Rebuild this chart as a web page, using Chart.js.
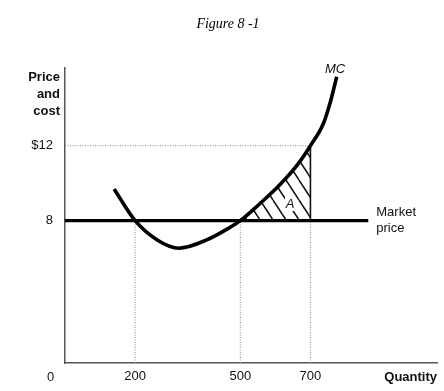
<!DOCTYPE html>
<html>
<head>
<meta charset="utf-8">
<script src="https://cdn.jsdelivr.net/npm/chart.js@4"></script>
<style>
  html, body { margin: 0; padding: 0; background: #fff; }
  #wrap { width: 444px; height: 391px; }
</style>
</head>
<body>
<div id="wrap"><canvas id="fig"></canvas></div>
<script>
// Datos
const qTicks = [200, 500, 700];
const pTicks = [8, 12];
const pTickLabels = { 8: '8', 12: '$12' };

// Curva MC (cantidad, precio)
const mcQ = [140, 200, 263, 325, 404, 466, 500, 557, 612, 666, 700, 737, 756, 775];
const mcP = [9.69, 8, 6.97, 6.53, 6.97, 7.59, 8, 8.93, 9.9, 11.06, 12, 13.19, 14.28, 15.68];

const marketPrice = 8;
const marketEnd = 865;     // hasta donde llega la recta de precio
const qLow = 200, qHigh = 500, qBest = 700;
const pBest = 12;

// Rango de ejes
const qMin = 0, qMax = 1061;
const pMin = 0.4, pMax = 16.15;

// -------------------------------------
// Rayado del área A
// -------------------------------------
function hatchPattern() {
  const c = document.createElement('canvas');
  const w = 13, h = 20;
  c.width = w; c.height = h;
  const g = c.getContext('2d');
  g.strokeStyle = '#111';
  g.lineWidth = 1.5;
  [-w, 0, w].forEach(dx => {
    g.beginPath();
    g.moveTo(dx, 0);
    g.lineTo(dx + w, h);
    g.stroke();
  });
  return g.createPattern(c, 'repeat');
}
const hatch = hatchPattern();

const pts = (xs, ys) => xs.map((x, i) => ({ x, y: ys[i] }));

const dotted = { borderColor: '#8a8a8a', borderWidth: 1, borderDash: [1, 1.5], pointRadius: 0, fill: false };

// Textos sueltos (título, título del eje, MC, A, precio de mercado)
const labelPlugin = {
  id: 'labels',
  afterDatasetsDraw(chart) {
    const { ctx, scales: { x, y } } = chart;
    ctx.save();
    ctx.fillStyle = '#000';
    ctx.textBaseline = 'middle';
    ctx.textAlign = 'center';
    ctx.font = 'italic 14px "Liberation Serif", "DejaVu Serif", serif';
    ctx.fillText('Figure 8 -1', 228, 24);

    ctx.fillStyle = '#111';
    ctx.font = 'bold 13px "Liberation Sans", Arial, sans-serif';
    ctx.textAlign = 'right';
    ['Price', 'and', 'cost'].forEach((t, i) => ctx.fillText(t, 60, 77 + i * 17));
    ctx.fillText('Quantity', 437, 377);

    ctx.font = '13px "Liberation Sans", Arial, sans-serif';
    ctx.textAlign = 'center';
    ctx.fillText('0', 50.5, 377);

    ctx.textAlign = 'left';
    const xm = x.getPixelForValue(marketEnd) + 8;
    const ym = y.getPixelForValue(marketPrice);
    ctx.fillText('Market', xm, ym - 8);
    ctx.fillText('price', xm, ym + 8);

    ctx.font = 'italic 13px "Liberation Sans", Arial, sans-serif';
    ctx.fillText('MC', 325, 69);

    // etiqueta A sobre el rayado
    const ax = 290, ay = 204;
    ctx.fillStyle = '#fff';
    ctx.fillRect(ax - 5, ay - 7, 10, 14);
    ctx.fillStyle = '#111';
    ctx.textAlign = 'center';
    ctx.fillText('A', ax, ay);
    ctx.restore();
  }
};

Chart.defaults.font.family = '"Liberation Sans", Arial, sans-serif';
Chart.defaults.font.size = 13;
Chart.defaults.color = '#111';

new Chart(document.getElementById('fig'), {
  type: 'line',
  data: {
    datasets: [
      {
        label: 'MC',
        data: pts(mcQ, mcP),
        borderColor: '#000',
        borderWidth: 3.6,
        pointRadius: 0,
        cubicInterpolationMode: 'monotone',
        fill: { value: marketPrice },
        backgroundColor: 'rgba(0,0,0,0)',
        segment: {
          backgroundColor: c => (c.p0.parsed.x >= qHigh && c.p1.parsed.x <= qBest) ? hatch : 'rgba(0,0,0,0)'
        }
      },
      {
        label: 'Market price',
        data: [{ x: qMin, y: marketPrice }, { x: marketEnd, y: marketPrice }],
        borderColor: '#000', borderWidth: 3.4, pointRadius: 0, fill: false
      },
      {
        label: 'edge',
        data: [{ x: qBest, y: marketPrice }, { x: qBest, y: pBest }],
        borderColor: '#111', borderWidth: 1.6, pointRadius: 0, fill: false
      },
      { label: 'g200', data: [{ x: qLow, y: pMin }, { x: qLow, y: marketPrice }], ...dotted },
      { label: 'g500', data: [{ x: qHigh, y: pMin }, { x: qHigh, y: marketPrice }], ...dotted },
      { label: 'g700', data: [{ x: qBest, y: pMin }, { x: qBest, y: marketPrice }], ...dotted },
      { label: 'g12', data: [{ x: qMin, y: pBest }, { x: qBest, y: pBest }], ...dotted }
    ]
  },
  options: {
    responsive: true,
    maintainAspectRatio: false,
    animation: false,
    layout: { padding: { top: 68, right: 7, left: 0, bottom: 0 } },
    plugins: {
      legend: { display: false },
      tooltip: { enabled: false },
      title: { display: false }
    },
    scales: {
      x: {
        type: 'linear',
        min: qMin, max: qMax,
        grid: { display: false, drawTicks: false },
        border: { display: true, color: '#555', width: 1.5 },
        ticks: { padding: 6, color: '#111', maxRotation: 0 },
        afterBuildTicks: s => { s.ticks = qTicks.map(v => ({ value: v })); },
        afterFit: s => { s.height = 28; }
      },
      y: {
        type: 'linear',
        min: pMin, max: pMax,
        grid: { display: false, drawTicks: false },
        border: { display: true, color: '#555', width: 1.5 },
        ticks: { padding: 12, color: '#111', callback: v => pTickLabels[v] },
        afterBuildTicks: s => { s.ticks = pTicks.map(v => ({ value: v })); },
        afterFit: s => { s.width = 65; }
      }
    }
  },
  plugins: [labelPlugin]
});
</script>
</body>
</html>
